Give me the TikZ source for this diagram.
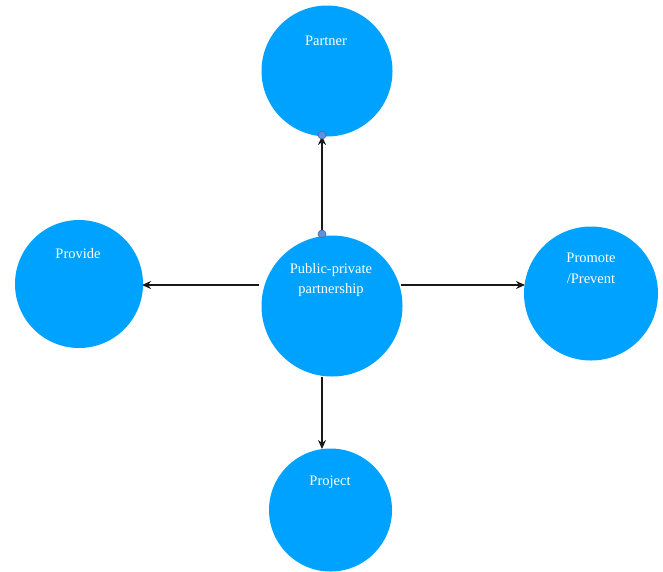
\documentclass[tikz,border=0pt]{standalone}
\usepackage{fontspec}
\setmainfont{Liberation Serif}
\usetikzlibrary{arrows.meta}
\definecolor{bub}{RGB}{0,162,255}
\definecolor{dotc}{RGB}{95,145,225}
\definecolor{dotb}{RGB}{70,105,170}
\definecolor{linec}{RGB}{25,25,25}
\begin{document}
\begin{tikzpicture}[x=1pt,y=-1pt,
  bubble/.style={circle,fill=bub,draw=none,inner sep=0pt,minimum size=#1},
  lbl/.style={text=white,font=\fontsize{14.5}{20.5}\selectfont,align=center,inner sep=0pt},
  conn/.style={draw=linec,line width=2.2pt,-{Stealth[length=9pt,width=8pt]}},
  dotm/.style={circle,fill=dotc,draw=dotb,line width=0.6pt,inner sep=0pt,minimum size=8pt}]
\useasboundingbox (0,0) rectangle (663,571);
\node[bubble=131pt] (partner) at (327,71) {};
\node[bubble=128pt] (provide) at (79,284) {};
\node[bubble=134pt] (promote) at (591,293.5) {};
\node[bubble=141pt] (ppp) at (332,306) {};
\node[bubble=123pt] (project) at (330.5,510) {};
\node[lbl] (tpartner) at (326,40.5) {Partner};
\node[lbl] (tprovide) at (78,254) {Provide};
\node[lbl] (tpromote) at (591,268.5) {Promote\\/Prevent};
\node[lbl] (tppp) at (331,280) {Public-private\\partnership};
\node[lbl] (tproject) at (330,482.5) {Project};
\coordinate (a1) at (322,234);
\coordinate (a2) at (322,136);
\coordinate (b1) at (259,285);
\coordinate (b2) at (142,285);
\coordinate (c1) at (401,285);
\coordinate (c2) at (525,285);
\coordinate (d1) at (322,377);
\coordinate (d2) at (322,449);
\draw[conn] (a1) -- (a2);
\draw[conn] (b1) -- (b2);
\draw[conn] (c1) -- (c2);
\draw[conn] (d1) -- (d2);
\node[dotm] (dot1) at (a1) {};
\node[dotm] (dot2) at (322,135) {};
\end{tikzpicture}
\end{document}
